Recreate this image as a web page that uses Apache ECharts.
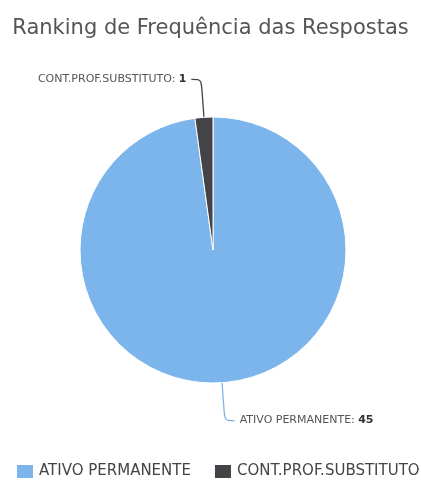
<!DOCTYPE html>
<html>
<head>
<meta charset="utf-8">
<script src="https://cdn.jsdelivr.net/npm/echarts@6/dist/echarts.min.js"></script>
<style>
html, body { margin: 0; padding: 0; background: #fff; }
#chart { width: 421px; height: 481px; }
</style>
</head>
<body>
<div id="chart"></div>
<script>
// dados do gráfico
const categories = ['ATIVO PERMANENTE', 'CONT.PROF.SUBSTITUTO']
const values = [45, 1]
const colors = ['#7cb5ec', '#434348']

const font = '"DejaVu Sans", sans-serif'
let myChart = echarts.init(document.getElementById('chart'))

let option = {
    animation: false,
    color: colors,
    title: {
        text: 'Ranking de Frequência das Respostas',
        left: 'center',
        top: 13,
        textStyle: { color: '#555', fontSize: 21, fontWeight: 'normal', fontFamily: font }
    },
    legend: {
        top: 463,
        left: 15,
        padding: 0,
        itemWidth: 18,
        itemHeight: 15,
        itemGap: 22,
        icon: 'rect',
        textStyle: { color: '#444', fontSize: 15, fontFamily: font },
        data: categories
    },
    series: [
        {
            type: 'pie',
            center: [213, 250],
            radius: [0, 133],
            startAngle: 90,
            clockwise: true,
            itemStyle: { borderColor: '#fff', borderWidth: 1 },
            label: {
                formatter: '{n|{b}:} {v|{c}}',
                rich: {
                    n: { color: '#555', fontSize: 11, fontFamily: font },
                    v: { color: '#333', fontSize: 11, fontWeight: 'bold', fontFamily: font }
                }
            },
            labelLine: { length: 38, length2: 10, smooth: true, lineStyle: { width: 1.3 } },
            data: categories.map((c, i) => ({ name: c, value: values[i] }))
        }
    ]
}

option && myChart.setOption(option)
</script>
</body>
</html>
